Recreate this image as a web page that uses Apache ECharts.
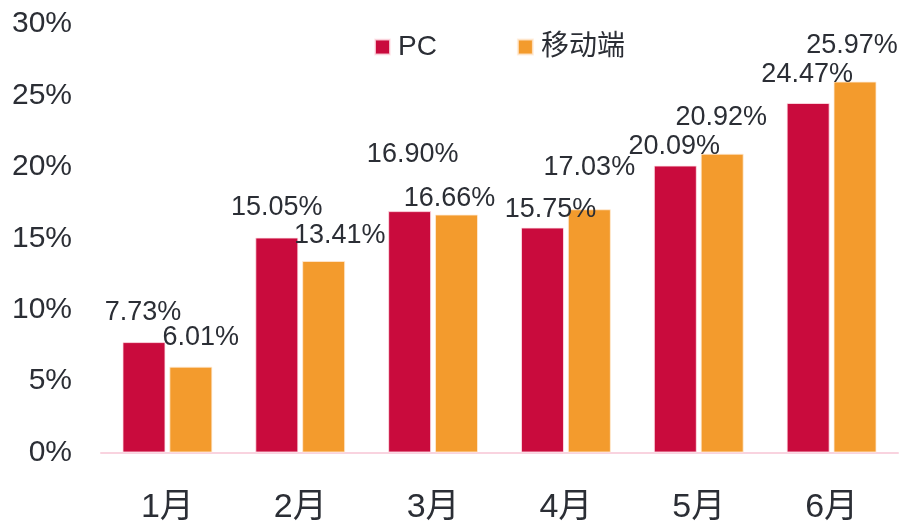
<!DOCTYPE html>
<html>
<head>
<meta charset="utf-8">
<script src="https://cdn.jsdelivr.net/npm/echarts@6/dist/echarts.min.js"></script>
<style>
  html, body { margin: 0; padding: 0; background: #fff; }
  #chart { width: 901px; height: 526px; }
</style>
</head>
<body>
<div id="chart"></div>
<script>
// 数据
var months = ['1月', '2月', '3月', '4月', '5月', '6月'];
var pcValues = [7.73, 15.05, 16.90, 15.75, 20.09, 24.47];
var mobileValues = [6.01, 13.41, 16.66, 17.03, 20.92, 25.97];

// 标签偏移（原图标签是手动摆放的）
var pcLabelOffsets = [[-1, -16], [0, -16], [3, -43], [8, -4], [-1, -6], [-1, -15]];
var mobileLabelOffsets = [[10, -16], [16, -12], [-7, -2], [0, -28], [-1, -23], [-3, -23]];

var fontFamily = "'Liberation Sans', Arial, 'Noto Sans CJK SC', sans-serif";
var textColor = '#2b2e35';

function buildData(values, offsets) {
  return values.map(function (v, i) {
    return {
      value: v,
      label: { offset: offsets[i] }
    };
  });
}

var myChart = echarts.init(document.getElementById('chart'));
var option = {
  animation: false,
  textStyle: { fontFamily: fontFamily },
  legend: {
    data: ['PC', '移动端'],
    left: 369,
    top: 28,
    itemWidth: 15,
    itemHeight: 15,
    itemGap: 80,
    icon: 'rect',
    textStyle: { color: textColor, fontSize: 28, fontFamily: fontFamily, padding: [0, 0, 0, 3] }
  },
  grid: { left: 101, right: 3, top: 24, bottom: 73.5, containLabel: false },
  xAxis: {
    type: 'category',
    data: months,
    axisLine: { lineStyle: { color: '#f9d3df', width: 2 } },
    axisTick: { show: false },
    axisLabel: { color: textColor, fontSize: 34, margin: 38, fontFamily: fontFamily }
  },
  yAxis: {
    type: 'value',
    min: 0,
    max: 30,
    interval: 5,
    axisLine: { show: false },
    axisTick: { show: false },
    splitLine: { show: false },
    axisLabel: {
      color: textColor,
      fontSize: 30,
      margin: 29,
      fontFamily: fontFamily,
      formatter: '{value}%'
    }
  },
  series: [
    {
      name: 'PC',
      type: 'bar',
      data: buildData(pcValues, pcLabelOffsets),
      barWidth: 43,
      barGap: '9%',
      itemStyle: { color: '#c90b3d', borderColor: 'rgba(255,230,235,0.8)', borderWidth: 1 },
      label: {
        show: true,
        position: 'top',
        distance: 0,
        color: textColor,
        fontSize: 27,
        fontFamily: fontFamily,
        formatter: function (p) { return p.value.toFixed(2) + '%'; }
      }
    },
    {
      name: '移动端',
      type: 'bar',
      data: buildData(mobileValues, mobileLabelOffsets),
      barWidth: 43,
      itemStyle: { color: '#f39b2d', borderColor: 'rgba(255,235,215,0.8)', borderWidth: 1 },
      label: {
        show: true,
        position: 'top',
        distance: 0,
        color: textColor,
        fontSize: 27,
        fontFamily: fontFamily,
        formatter: function (p) { return p.value.toFixed(2) + '%'; }
      }
    }
  ]
};
myChart.setOption(option);
</script>
</body>
</html>
